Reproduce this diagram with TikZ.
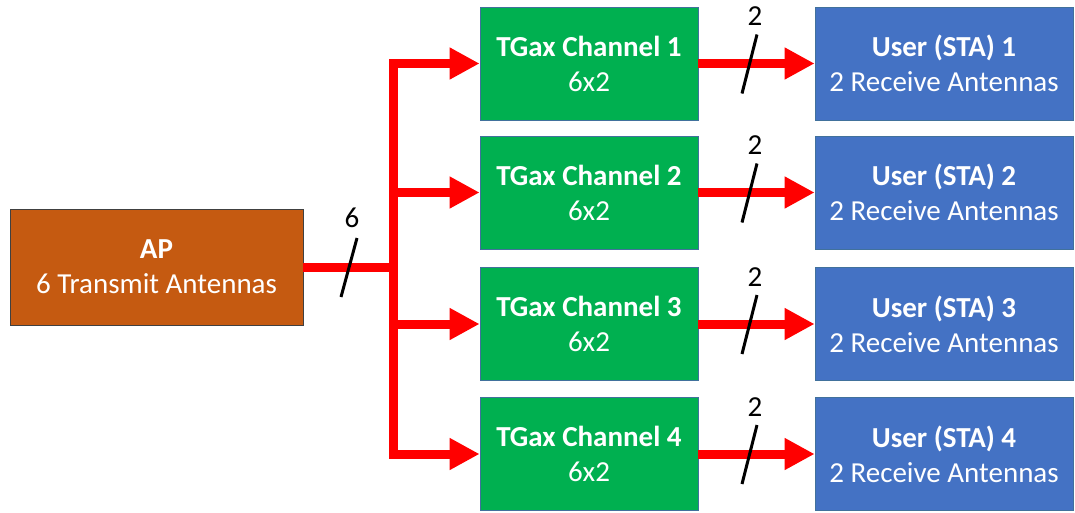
\documentclass[tikz,border=0pt]{standalone}
\usepackage{fontspec}
\setmainfont{Carlito}
\usetikzlibrary{arrows.meta}
\definecolor{apc}{HTML}{C55A11}
\definecolor{chc}{HTML}{00B050}
\definecolor{usc}{HTML}{4472C4}
\definecolor{edge}{HTML}{41719C}
\definecolor{sigred}{HTML}{FF0000}
\tikzset{
  box/.style={draw=edge, line width=0.8pt, text=white, align=center, inner sep=0pt, font=\fontsize{29}{35}\selectfont},
  apbox/.style={box, draw=black!75, fill=apc, minimum width=293pt, minimum height=116pt},
  chbox/.style={box, fill=chc, minimum width=218pt, minimum height=113pt},
  usbox/.style={box, fill=usc, minimum width=258pt, minimum height=113pt},
  sig/.style={draw=sigred, line width=9pt, line join=miter},
  sigarrow/.style={sig, -{Triangle[length=30pt,width=30pt]}},
  slash/.style={draw=black, line width=3pt},
  cnt/.style={font=\fontsize{29}{33}\selectfont, inner sep=0pt}
}
\begin{document}
\begin{tikzpicture}[x=1pt,y=-1pt]
\useasboundingbox (0,0) rectangle (1075,512);
\node[apbox] (ap) at (156.5,267) {\textbf{AP}\\6 Transmit Antennas};
\foreach \i/\y in {1/63.5,2/192.5,3/324,4/454}{
  \node[chbox] (ch\i) at (589,\y) {\textbf{TGax Channel \i}\\6x2};
  \node[usbox] (us\i) at (944,\y) {\textbf{User (STA) \i}\\2 Receive Antennas};
}
\coordinate (bus) at (393,267);
\draw[sig] (ap.east) -- (bus);
\foreach \i in {1,...,4}{
  \draw[sigarrow] (bus) |- (ch\i.west);
  \draw[sigarrow] (ch\i.east) -- (us\i.west);
}
% slash marks
\coordinate (s0a) at (341,297); \coordinate (s0b) at (357,238);
\draw[slash] (s0a) -- (s0b);
\node[cnt] (n6) at (352,217.5) {6};
\foreach \i/\y in {1/63.5,2/192.5,3/324,4/454}{
  \coordinate (sa\i) at (742,\y+30);
  \coordinate (sb\i) at (757,\y-29);
  \draw[slash] (sa\i) -- (sb\i);
  \node[cnt] (n\i) at (755,\y-47) {2};
}
\end{tikzpicture}
\end{document}
